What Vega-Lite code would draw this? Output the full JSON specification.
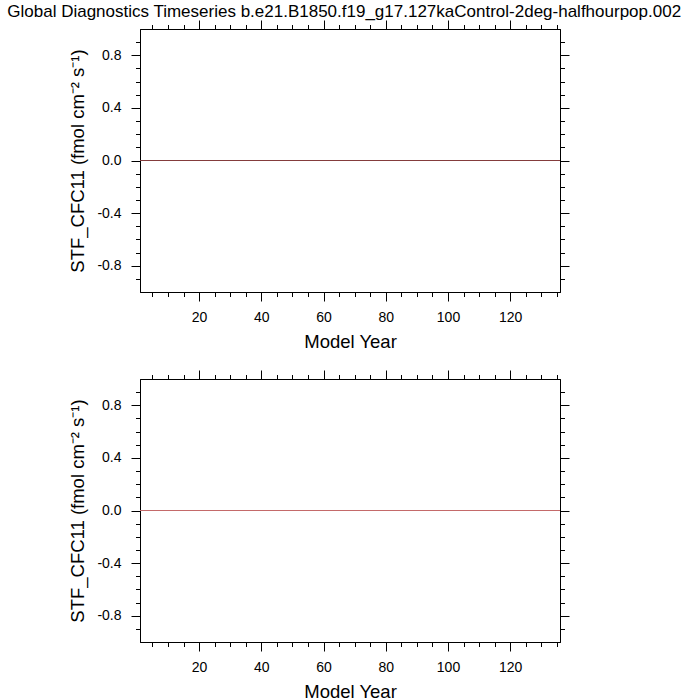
{
  "$schema": "https://vega.github.io/schema/vega-lite/v6.json",
  "padding": {"left": 7, "top": 3, "right": 5, "bottom": 5},
  "background": "white",
  "title": {"text": "Global Diagnostics Timeseries b.e21.B1850.f19_g17.127kaControl-2deg-halfhourpop.002", "font": "Liberation Sans", "fontSize": 17, "fontWeight": "normal", "color": "black", "anchor": "middle", "offset": -2, "dx": 25},
  "config": {
    "locale": {"number": {"decimal": ".", "thousands": ",", "grouping": [3], "currency": ["$", ""], "minus": "-"}},
    "view": {"stroke": "black", "strokeWidth": 1},
    "axis": {"labelFont": "Liberation Sans", "labelFontSize": 14, "labelColor": "black", "titleFont": "Liberation Sans", "titleFontSize": 18.5, "titleFontWeight": "normal", "titleColor": "black", "tickColor": "black", "domainColor": "black", "grid": false, "tickWidth": 1, "domainWidth": 1}
  },
  "datasets": {
    "d": [
      {"year":1,"value":0},{"year":2,"value":0},{"year":3,"value":0},{"year":4,"value":0},{"year":5,"value":0},{"year":6,"value":0},{"year":7,"value":0},{"year":8,"value":0},{"year":9,"value":0},{"year":10,"value":0},
      {"year":11,"value":0},{"year":12,"value":0},{"year":13,"value":0},{"year":14,"value":0},{"year":15,"value":0},{"year":16,"value":0},{"year":17,"value":0},{"year":18,"value":0},{"year":19,"value":0},{"year":20,"value":0},
      {"year":21,"value":0},{"year":22,"value":0},{"year":23,"value":0},{"year":24,"value":0},{"year":25,"value":0},{"year":26,"value":0},{"year":27,"value":0},{"year":28,"value":0},{"year":29,"value":0},{"year":30,"value":0},
      {"year":31,"value":0},{"year":32,"value":0},{"year":33,"value":0},{"year":34,"value":0},{"year":35,"value":0},{"year":36,"value":0},{"year":37,"value":0},{"year":38,"value":0},{"year":39,"value":0},{"year":40,"value":0},
      {"year":41,"value":0},{"year":42,"value":0},{"year":43,"value":0},{"year":44,"value":0},{"year":45,"value":0},{"year":46,"value":0},{"year":47,"value":0},{"year":48,"value":0},{"year":49,"value":0},{"year":50,"value":0},
      {"year":51,"value":0},{"year":52,"value":0},{"year":53,"value":0},{"year":54,"value":0},{"year":55,"value":0},{"year":56,"value":0},{"year":57,"value":0},{"year":58,"value":0},{"year":59,"value":0},{"year":60,"value":0},
      {"year":61,"value":0},{"year":62,"value":0},{"year":63,"value":0},{"year":64,"value":0},{"year":65,"value":0},{"year":66,"value":0},{"year":67,"value":0},{"year":68,"value":0},{"year":69,"value":0},{"year":70,"value":0},
      {"year":71,"value":0},{"year":72,"value":0},{"year":73,"value":0},{"year":74,"value":0},{"year":75,"value":0},{"year":76,"value":0},{"year":77,"value":0},{"year":78,"value":0},{"year":79,"value":0},{"year":80,"value":0},
      {"year":81,"value":0},{"year":82,"value":0},{"year":83,"value":0},{"year":84,"value":0},{"year":85,"value":0},{"year":86,"value":0},{"year":87,"value":0},{"year":88,"value":0},{"year":89,"value":0},{"year":90,"value":0},
      {"year":91,"value":0},{"year":92,"value":0},{"year":93,"value":0},{"year":94,"value":0},{"year":95,"value":0},{"year":96,"value":0},{"year":97,"value":0},{"year":98,"value":0},{"year":99,"value":0},{"year":100,"value":0},
      {"year":101,"value":0},{"year":102,"value":0},{"year":103,"value":0},{"year":104,"value":0},{"year":105,"value":0},{"year":106,"value":0},{"year":107,"value":0},{"year":108,"value":0},{"year":109,"value":0},{"year":110,"value":0},
      {"year":111,"value":0},{"year":112,"value":0},{"year":113,"value":0},{"year":114,"value":0},{"year":115,"value":0},{"year":116,"value":0},{"year":117,"value":0},{"year":118,"value":0},{"year":119,"value":0},{"year":120,"value":0},
      {"year":121,"value":0},{"year":122,"value":0},{"year":123,"value":0},{"year":124,"value":0},{"year":125,"value":0},{"year":126,"value":0},{"year":127,"value":0},{"year":128,"value":0},{"year":129,"value":0},{"year":130,"value":0},
      {"year":131,"value":0},{"year":132,"value":0},{"year":133,"value":0},{"year":134,"value":0},{"year":135,"value":0},{"year":136,"value":0}
    ]
  },
  "spacing": 18,
  "vconcat": [
    {
      "width": 420, "height": 263,
      "data": {"name": "d"},
      "layer": [
        {"mark": {"type": "line", "color": "#843c3c", "strokeWidth": 1.2},
         "encoding": {
           "x": {"field": "year", "type": "quantitative", "scale": {"domain": [1, 136], "nice": false, "zero": false},
                 "axis": {"orient": "bottom", "values": [20, 40, 60, 80, 100, 120], "tickSize": 9, "labelPadding": 9, "title": "Model Year", "titlePadding": 8}},
           "y": {"field": "value", "type": "quantitative", "scale": {"domain": [-1, 1], "nice": false, "zero": false},
                 "axis": {"orient": "left", "values": [-0.8, -0.4, 0, 0.4, 0.8], "format": ".1f", "tickSize": 9, "labelPadding": 10, "title": "STF_CFC11 (fmol cm⁻² s⁻¹)", "titlePadding": 9}}
         }},
        {"mark": {"type": "line", "opacity": 0},
         "encoding": {
           "x": {"field": "year", "type": "quantitative", "axis": {"orient": "bottom", "values": [5,10,15,25,30,35,45,50,55,65,70,75,85,90,95,105,110,115,125,130,135], "tickSize": 4.5, "labels": false, "title": null, "domain": false}},
           "y": {"field": "value", "type": "quantitative", "axis": {"orient": "left", "values": [-0.9,-0.7,-0.6,-0.5,-0.3,-0.2,-0.1,0.1,0.2,0.3,0.5,0.6,0.7,0.9], "tickSize": 4.5, "labels": false, "title": null, "domain": false}}
         }},
        {"mark": {"type": "line", "opacity": 0},
         "encoding": {
           "x": {"field": "year", "type": "quantitative", "axis": {"orient": "top", "values": [20, 40, 60, 80, 100, 120], "tickSize": 9, "labels": false, "title": null}},
           "y": {"field": "value", "type": "quantitative", "axis": {"orient": "right", "values": [-0.8, -0.4, 0, 0.4, 0.8], "tickSize": 9, "labels": false, "title": null}}
         }},
        {"mark": {"type": "line", "opacity": 0},
         "encoding": {
           "x": {"field": "year", "type": "quantitative", "axis": {"orient": "top", "values": [5,10,15,25,30,35,45,50,55,65,70,75,85,90,95,105,110,115,125,130,135], "tickSize": 4.5, "labels": false, "title": null, "domain": false}},
           "y": {"field": "value", "type": "quantitative", "axis": {"orient": "right", "values": [-0.9,-0.7,-0.6,-0.5,-0.3,-0.2,-0.1,0.1,0.2,0.3,0.5,0.6,0.7,0.9], "tickSize": 4.5, "labels": false, "title": null, "domain": false}}
         }}
      ]
    },
    {
      "width": 420, "height": 263,
      "data": {"name": "d"},
      "layer": [
        {"mark": {"type": "line", "color": "#c46a6a", "strokeWidth": 1.2},
         "encoding": {
           "x": {"field": "year", "type": "quantitative", "scale": {"domain": [1, 136], "nice": false, "zero": false},
                 "axis": {"orient": "bottom", "values": [20, 40, 60, 80, 100, 120], "tickSize": 9, "labelPadding": 9, "title": "Model Year", "titlePadding": 8}},
           "y": {"field": "value", "type": "quantitative", "scale": {"domain": [-1, 1], "nice": false, "zero": false},
                 "axis": {"orient": "left", "values": [-0.8, -0.4, 0, 0.4, 0.8], "format": ".1f", "tickSize": 9, "labelPadding": 10, "title": "STF_CFC11 (fmol cm⁻² s⁻¹)", "titlePadding": 9}}
         }},
        {"mark": {"type": "line", "opacity": 0},
         "encoding": {
           "x": {"field": "year", "type": "quantitative", "axis": {"orient": "bottom", "values": [5,10,15,25,30,35,45,50,55,65,70,75,85,90,95,105,110,115,125,130,135], "tickSize": 4.5, "labels": false, "title": null, "domain": false}},
           "y": {"field": "value", "type": "quantitative", "axis": {"orient": "left", "values": [-0.9,-0.7,-0.6,-0.5,-0.3,-0.2,-0.1,0.1,0.2,0.3,0.5,0.6,0.7,0.9], "tickSize": 4.5, "labels": false, "title": null, "domain": false}}
         }},
        {"mark": {"type": "line", "opacity": 0},
         "encoding": {
           "x": {"field": "year", "type": "quantitative", "axis": {"orient": "top", "values": [20, 40, 60, 80, 100, 120], "tickSize": 9, "labels": false, "title": null}},
           "y": {"field": "value", "type": "quantitative", "axis": {"orient": "right", "values": [-0.8, -0.4, 0, 0.4, 0.8], "tickSize": 9, "labels": false, "title": null}}
         }},
        {"mark": {"type": "line", "opacity": 0},
         "encoding": {
           "x": {"field": "year", "type": "quantitative", "axis": {"orient": "top", "values": [5,10,15,25,30,35,45,50,55,65,70,75,85,90,95,105,110,115,125,130,135], "tickSize": 4.5, "labels": false, "title": null, "domain": false}},
           "y": {"field": "value", "type": "quantitative", "axis": {"orient": "right", "values": [-0.9,-0.7,-0.6,-0.5,-0.3,-0.2,-0.1,0.1,0.2,0.3,0.5,0.6,0.7,0.9], "tickSize": 4.5, "labels": false, "title": null, "domain": false}}
         }}
      ]
    }
  ]
}
